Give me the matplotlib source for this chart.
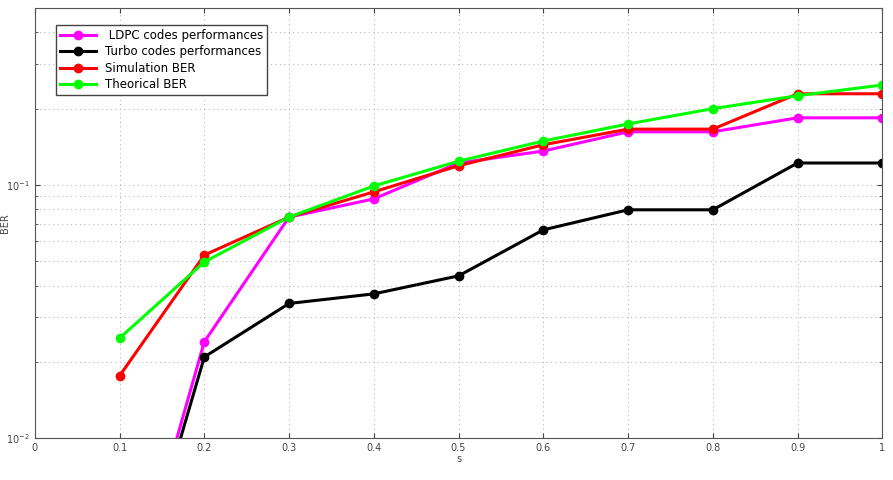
import matplotlib.pyplot as plt
from matplotlib.ticker import LogLocator, NullFormatter

s = [0.1, 0.2, 0.3, 0.4, 0.5, 0.6, 0.7, 0.8, 0.9, 1.0]
ldpc = [0.0016, 0.024, 0.0746, 0.088, 0.122, 0.136, 0.162, 0.162, 0.184, 0.184]
turbo = [0.0015, 0.0209, 0.034, 0.0371, 0.0437, 0.0664, 0.0797, 0.0797, 0.122, 0.122]
sim_ber = [0.0176, 0.0528, 0.0746, 0.0938, 0.119, 0.144, 0.166, 0.166, 0.229, 0.229]
theo_ber = [0.0248, 0.0496, 0.0746, 0.099, 0.124, 0.149, 0.174, 0.2, 0.225, 0.248]

fig = plt.figure(figsize=(8.93, 4.8), dpi=100)
ax = fig.add_axes([0.039, 0.0875, 0.949, 0.896])

ax.semilogy(s, ldpc, color='#ff00ff', lw=2.2, marker='o', ms=6, label=' LDPC codes performances')
ax.semilogy(s, turbo, color='black', lw=2.2, marker='o', ms=6, label='Turbo codes performances')
ax.semilogy(s, sim_ber, color='#ff0000', lw=2.2, marker='o', ms=6, label='Simulation BER')
ax.semilogy(s, theo_ber, color='#00ff00', lw=2.2, marker='o', ms=6, label='Theorical BER')

ax.set_xlim(0, 1)
ax.set_ylim(0.01, 0.5)
ax.set_xticks([0, 0.1, 0.2, 0.3, 0.4, 0.5, 0.6, 0.7, 0.8, 0.9, 1])
ax.set_xticklabels(['0', '0.1', '0.2', '0.3', '0.4', '0.5', '0.6', '0.7', '0.8', '0.9', '1'])
ax.yaxis.set_minor_locator(LogLocator(base=10, subs=range(2, 10)))
ax.yaxis.set_minor_formatter(NullFormatter())

ax.grid(True, which='major', linestyle=(0, (1, 3)), color='#bbbbbb', lw=0.8)
ax.grid(True, which='minor', axis='y', linestyle=(0, (1, 3)), color='#bbbbbb', lw=0.8)
ax.tick_params(which='both', direction='in', top=True, right=True, labelsize=7, colors='#444444')
for sp in ax.spines.values():
    sp.set_color('#555555')

ax.set_xlabel('s', fontsize=7, color='#444444', labelpad=1)
ax.set_ylabel('BER', fontsize=7, color='#444444')
ax.yaxis.set_label_coords(-0.029, 0.5)

leg = ax.legend(loc='upper left', bbox_to_anchor=(0.018, 0.975), fontsize=8.5,
                fancybox=False, framealpha=1, edgecolor='#444444',
                borderpad=0.35, labelspacing=0.3, handlelength=3)

fig.savefig('out.png', dpi=100)
